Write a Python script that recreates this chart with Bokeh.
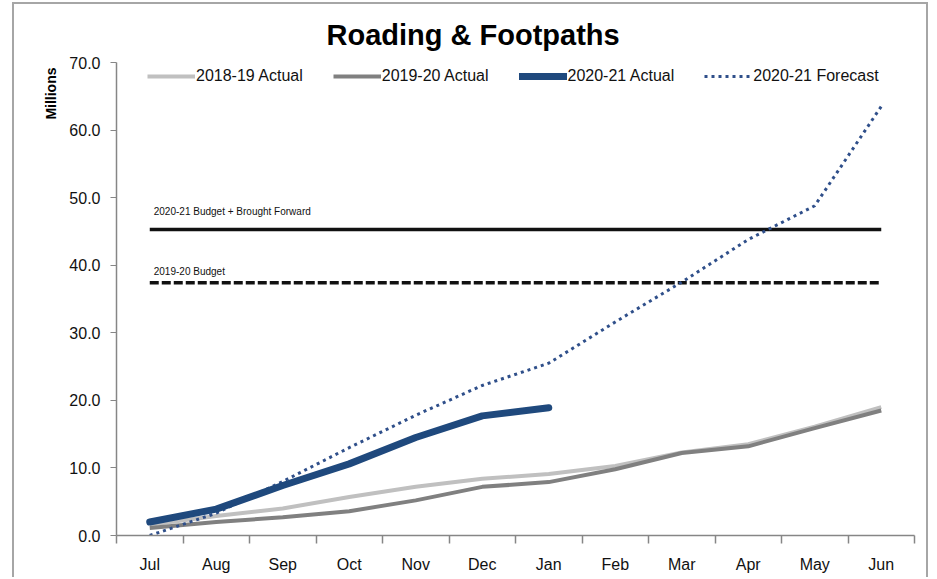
import math
from bokeh.plotting import figure
from bokeh.models import (Range1d, LinearAxis, FixedTicker, PrintfTickFormatter,
                          Legend, LegendItem, Title)
from bokeh.core.properties import value
from bokeh.embed import file_html
from bokeh.resources import INLINE

months = ["Jul", "Aug", "Sep", "Oct", "Nov", "Dec", "Jan", "Feb", "Mar", "Apr", "May", "Jun"]
actual_1819 = [1.6, 2.9, 4.0, 5.7, 7.2, 8.4, 9.1, 10.3, 12.3, 13.5, 16.1, 19.0]
actual_1920 = [1.1, 2.0, 2.7, 3.6, 5.2, 7.2, 7.9, 9.8, 12.2, 13.2, 15.9, 18.5]
actual_2021 = [2.0, 3.9, 7.4, 10.6, 14.5, 17.7, 18.9]
forecast_2021 = [0.0, 3.3, 8.0, 13.0, 17.8, 22.2, 25.5, 31.6, 37.5, 43.8, 48.8, 63.5]
budget_2021_bf = 45.3
budget_1920 = 37.4
y_ticks = [0, 10, 20, 30, 40, 50, 60, 70]

FONT = "Liberation Sans"

xc = [i + 0.5 for i in range(len(months))]

p = figure(width=916, height=575, output_backend="svg", toolbar_location=None,
           x_range=Range1d(0, len(months)), y_range=Range1d(0, 70),
           x_axis_type=None, y_axis_type=None,
           min_border_left=102, min_border_right=16, min_border_top=58, min_border_bottom=44,
           title="Roading & Footpaths")
p.styles = {"border-left": "2px solid #a6a6a6", "border-top": "2px solid #a6a6a6",
            "border-right": "2px solid #a6a6a6", "margin-left": "12px", "margin-top": "2px"}
p.outline_line_color = None
p.xgrid.visible = False
p.ygrid.visible = False
p.background_fill_color = "white"
p.border_fill_color = "white"

p.title.text_font = FONT
p.title.text_font_size = "29px"
p.title.text_font_style = "bold"
p.title.text_color = "#000000"
p.title.align = "left"
p.title.offset = 210
p.title.standoff = 23

# axes
yaxis = LinearAxis(ticker=FixedTicker(ticks=y_ticks, minor_ticks=[]),
                   formatter=PrintfTickFormatter(format="%.1f"))
yaxis.axis_line_color = "#868686"
yaxis.axis_line_width = 1.5
yaxis.major_tick_line_color = "#868686"
yaxis.major_tick_out = 6
yaxis.major_tick_in = 0
yaxis.minor_tick_line_color = None
yaxis.major_label_standoff = 10
yaxis.major_label_text_font = FONT
yaxis.major_label_text_font_size = "16px"
yaxis.major_label_text_color = "#111111"
p.add_layout(yaxis, "left")

# y axis title at the top of the left side
p.add_layout(Title(text="Millions", align="right", text_font=FONT, text_font_size="14px",
                   text_font_style="bold", text_color="#000000", offset=5, standoff=15), "left")

xaxis = LinearAxis(ticker=FixedTicker(ticks=xc, minor_ticks=list(range(len(months) + 1))))
xaxis.major_label_overrides = {x: m for x, m in zip(xc, months)}
xaxis.axis_line_color = "#868686"
xaxis.axis_line_width = 1.5
xaxis.major_tick_line_color = None
xaxis.major_tick_out = 0
xaxis.major_tick_in = 0
xaxis.minor_tick_line_color = "#868686"
xaxis.minor_tick_line_width = 1.5
xaxis.minor_tick_out = 8
xaxis.minor_tick_in = 0
xaxis.major_label_standoff = 12
xaxis.major_label_text_font = FONT
xaxis.major_label_text_font_size = "16px"
xaxis.major_label_text_color = "#111111"
p.add_layout(xaxis, "below")

# budget lines
bx = [xc[0], xc[-1]]
p.line(bx, [budget_2021_bf] * 2, line_color="#111111", line_width=3.5)
p.line(bx, [budget_1920] * 2, line_color="#111111", line_width=3.5, line_dash="9 3")
p.text([xc[0]], [budget_2021_bf], text=["2020-21 Budget + Brought Forward"],
       text_font=value(FONT), text_font_size="10px", text_color="#111111",
       text_baseline="middle", x_offset=4, y_offset=-18)
p.text([xc[0]], [budget_1920], text=["2019-20 Budget"],
       text_font=value(FONT), text_font_size="10px", text_color="#111111",
       text_baseline="middle", x_offset=4, y_offset=-11)

r1 = p.line(xc, actual_1819, line_color="#c0c0c0", line_width=4)
r2 = p.line(xc, actual_1920, line_color="#808080", line_width=4)
r4 = p.line(xc, forecast_2021, line_color="#2f4f8a", line_width=3, line_dash="3 4")
r3 = p.line(xc[:len(actual_2021)], actual_2021, line_color="#1f497d", line_width=7,
            line_cap="round", line_join="round")

legend = Legend(items=[LegendItem(label="2018-19 Actual", renderers=[r1]),
                       LegendItem(label="2019-20 Actual", renderers=[r2]),
                       LegendItem(label="2020-21 Actual", renderers=[r3]),
                       LegendItem(label="2020-21 Forecast", renderers=[r4])],
                orientation="horizontal", location=(31, 449))
legend.label_text_font = FONT
legend.label_text_font_size = "16px"
legend.label_text_color = "#111111"
legend.glyph_width = 48
legend.glyph_height = 20
legend.label_height = 20
legend.label_standoff = 1
legend.spacing = 30
legend.padding = 0
legend.margin = 0
legend.border_line_color = None
legend.background_fill_alpha = 0
p.add_layout(legend, "center")

open("out.html", "w").write(file_html(p, INLINE))
